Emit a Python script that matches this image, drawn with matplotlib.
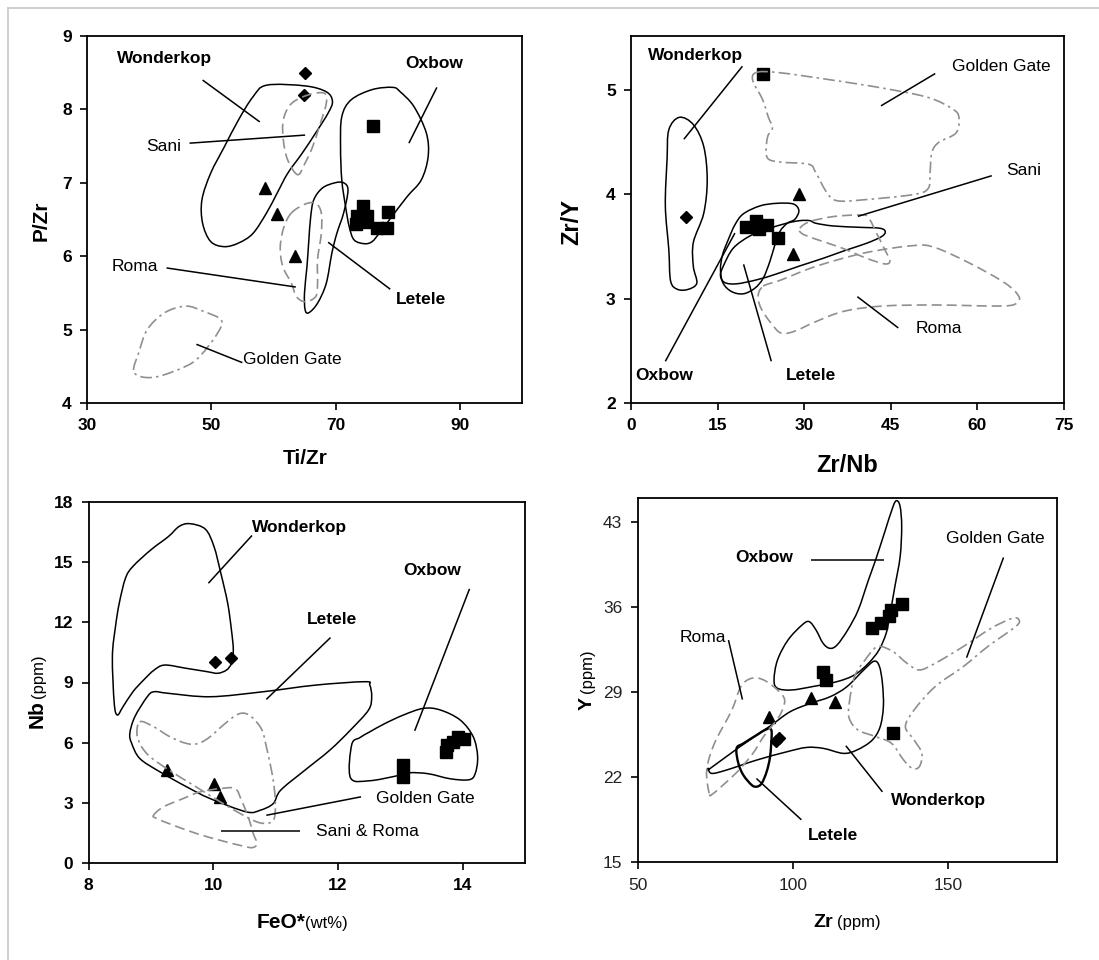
import numpy as np
import matplotlib
matplotlib.use("Agg")
import matplotlib.pyplot as plt
from matplotlib.path import Path
from matplotlib.patches import PathPatch
from matplotlib.lines import Line2D

plt.rcParams['font.family'] = ['Liberation Sans', 'DejaVu Sans']

# ---------------------------------------------------------------- panel 1: P/Zr vs Ti/Zr
p1_wonderkop_x = [58.9, 65.1, 68.5, 69.5, 68.8, 66.8, 64.6, 62.3, 60.6, 58.9, 56.7, 54.4, 52.1, 49.9, 48.6, 48.5, 49.9, 52.1, 54.4, 56.7]
p1_wonderkop_y = [8.33, 8.32, 8.24, 8.11, 7.95, 7.68, 7.40, 7.13, 6.86, 6.59, 6.31, 6.18, 6.13, 6.20, 6.45, 6.77, 7.13, 7.49, 7.86, 8.17]
p1_sani_x = [63.9, 62.3, 61.6, 61.6, 62.9, 65.7, 68.2, 68.5, 67.4, 66.3, 65.1]
p1_sani_y = [7.11, 7.31, 7.58, 7.86, 8.08, 8.20, 8.22, 8.08, 7.77, 7.49, 7.27]
p1_oxbow_x = [72.5, 75.9, 79.2, 80.4, 82.6, 84.6, 84.9, 83.8, 81.5, 78.7, 77.0, 75.9, 74.7, 73.0, 72.2, 71.6, 71.0, 70.8, 71.0]
p1_oxbow_y = [8.13, 8.27, 8.30, 8.24, 8.04, 7.68, 7.36, 7.04, 6.81, 6.50, 6.31, 6.20, 6.17, 6.22, 6.40, 6.68, 7.04, 7.49, 7.90]
p1_letele_x = [65.1, 65.7, 67.1, 68.5, 69.4, 70.2, 71.3, 72.0, 71.3, 69.9, 67.9, 66.5, 66.0, 65.7, 65.4, 65.0]
p1_letele_y = [5.27, 5.23, 5.36, 5.63, 6.04, 6.31, 6.59, 6.90, 7.00, 7.00, 6.93, 6.77, 6.54, 6.22, 5.86, 5.50]
p1_roma_x = [62.9, 65.1, 66.8, 67.7, 67.7, 67.1, 67.1, 66.8, 65.1, 63.7, 62.9, 61.5, 61.1, 61.7]
p1_roma_y = [6.59, 6.71, 6.72, 6.59, 6.31, 5.95, 5.63, 5.45, 5.38, 5.45, 5.63, 5.86, 6.13, 6.40]
p1_golden_x = [37.5, 38.3, 39.7, 42.5, 45.9, 48.7, 51.6, 51.0, 48.2, 45.9, 41.4, 38.6]
p1_golden_y = [4.45, 4.68, 5.00, 5.23, 5.32, 5.25, 5.13, 4.95, 4.64, 4.50, 4.36, 4.36]

p1_diamond_x = [65.0, 64.9]
p1_diamond_y = [8.50, 8.20]
p1_triangle_x = [58.6, 60.5, 63.4]
p1_triangle_y = [6.93, 6.57, 6.00]
p1_square_x = [76.0, 74.4, 73.5, 75.0, 73.25, 74.9, 76.6, 78.2, 78.5]
p1_square_y = [7.77, 6.69, 6.55, 6.55, 6.44, 6.47, 6.38, 6.38, 6.60]

p1_xticks = [30, 50, 70, 90]
p1_yticks = [4, 5, 6, 7, 8, 9]

# ---------------------------------------------------------------- panel 2: Zr/Y vs Zr/Nb
p2_wonderkop_x = [8.37, 10.8, 12.6, 13.2, 12.6, 10.8, 10.8, 11.4, 9.9, 8.07, 6.86, 6.55, 5.95, 6.25, 6.55]
p2_wonderkop_y = [4.74, 4.67, 4.46, 4.14, 3.82, 3.54, 3.31, 3.15, 3.09, 3.09, 3.17, 3.47, 3.89, 4.34, 4.62]
p2_golden_x = [21.7, 25.4, 34.5, 43.6, 51.5, 55.7, 56.8, 56.3, 53.3, 52.1, 51.8, 51.5, 49.0, 40.5, 35.7, 33.9, 32.0, 30.8, 26.0, 23.8, 23.4, 23.7, 24.5, 23.8, 22.8, 21.1]
p2_golden_y = [5.17, 5.17, 5.10, 5.02, 4.93, 4.82, 4.74, 4.59, 4.50, 4.40, 4.21, 4.06, 4.00, 3.95, 3.94, 4.02, 4.21, 4.29, 4.31, 4.34, 4.43, 4.56, 4.64, 4.74, 4.91, 5.09]
p2_sani_x = [29.25, 30.98, 35.03, 39.65, 41.09, 42.54, 43.98, 44.85, 43.98, 40.81, 36.18, 31.56, 29.54]
p2_sani_y = [3.676, 3.74, 3.788, 3.804, 3.781, 3.628, 3.468, 3.366, 3.334, 3.388, 3.494, 3.58, 3.628]
p2_roma_x = [22.9, 26.0, 32.0, 40.5, 49.0, 52.7, 58.7, 64.8, 67.2, 66.6, 63.6, 52.7, 43.6, 36.9, 32.0, 28.4, 26.0, 24.2, 22.6, 22.0]
p2_roma_y = [3.12, 3.18, 3.31, 3.44, 3.51, 3.49, 3.34, 3.15, 3.02, 2.95, 2.93, 2.94, 2.93, 2.88, 2.78, 2.69, 2.67, 2.77, 2.90, 3.02]
p2_oxbow_x = [19.43, 22.32, 25.21, 28.10, 29.08, 28.38, 27.06, 25.78, 24.92, 24.05, 22.90, 21.45, 19.43, 17.41, 15.96, 15.50, 15.85, 16.83, 17.99]
p2_oxbow_y = [3.813, 3.890, 3.915, 3.909, 3.845, 3.762, 3.724, 3.644, 3.516, 3.357, 3.197, 3.101, 3.047, 3.069, 3.149, 3.277, 3.420, 3.564, 3.708]
p2_letele_x = [15.96, 17.70, 20.59, 23.47, 26.94, 29.25, 30.98, 32.02, 35.03, 39.65, 43.12, 44.04, 43.40, 40.81, 37.34, 33.29, 29.25, 25.21, 21.74, 18.27, 16.25, 15.50]
p2_letele_y = [3.309, 3.484, 3.602, 3.666, 3.724, 3.749, 3.749, 3.724, 3.698, 3.685, 3.676, 3.644, 3.596, 3.532, 3.468, 3.388, 3.315, 3.238, 3.181, 3.143, 3.155, 3.219]

p2_diamond_x = [9.47]
p2_diamond_y = [3.78]
p2_triangle_x = [29.1, 28.1]
p2_triangle_y = [4.005, 3.43]
p2_square_x = [22.8, 20.0, 21.7, 23.5, 22.2, 25.5]
p2_square_y = [5.16, 3.685, 3.749, 3.708, 3.666, 3.58]

p2_xticks = [0, 15, 30, 45, 60, 75]
p2_yticks = [2, 3, 4, 5]

# ---------------------------------------------------------------- panel 3: Nb vs FeO*
p3_wonderkop_x = [8.46, 8.41, 8.38, 8.43, 8.49, 8.59, 8.71, 9.00, 9.28, 9.45, 9.62, 9.87, 10.01, 10.12, 10.23, 10.29, 10.32, 10.29, 10.21, 10.07, 9.90, 9.56, 9.22, 9.05, 8.88, 8.71, 8.55]
p3_wonderkop_y = [7.38, 7.96, 10.29, 11.79, 12.95, 14.20, 14.79, 15.62, 16.28, 16.78, 16.92, 16.65, 15.78, 14.45, 12.95, 11.62, 10.62, 9.96, 9.62, 9.46, 9.54, 9.71, 9.87, 9.62, 9.12, 8.54, 7.79]
p3_letele_x = [8.66, 8.74, 8.94, 9.05, 9.28, 9.95, 10.80, 11.64, 12.43, 12.51, 12.54, 12.49, 12.20, 11.87, 11.47, 11.08, 10.96, 10.75, 10.53, 9.95, 9.57, 9.14, 8.82, 8.69]
p3_letele_y = [6.46, 7.29, 8.29, 8.54, 8.46, 8.29, 8.54, 8.87, 9.04, 8.87, 8.29, 7.63, 6.63, 5.63, 4.63, 3.63, 2.96, 2.63, 2.55, 3.21, 3.80, 4.55, 5.21, 5.96]
p3_oxbow_x = [12.20, 12.22, 12.35, 12.51, 12.75, 13.05, 13.37, 13.64, 13.96, 14.17, 14.24, 14.20, 14.10, 13.80, 13.45, 13.15, 12.95, 12.50]
p3_oxbow_y = [4.25, 5.90, 6.25, 6.54, 6.95, 7.38, 7.71, 7.63, 7.13, 6.29, 5.29, 4.45, 4.15, 4.20, 4.45, 4.50, 4.35, 4.10]
p3_golden_x = [8.82, 9.04, 9.30, 9.57, 9.76, 9.95, 10.16, 10.37, 10.51, 10.64, 10.78, 10.85, 10.91, 10.96, 10.99, 10.99, 10.94, 10.75, 10.48, 10.11, 9.68, 9.25, 8.93, 8.78]
p3_golden_y = [7.04, 6.80, 6.30, 5.96, 5.96, 6.30, 6.88, 7.38, 7.46, 7.21, 6.63, 5.80, 4.96, 4.13, 3.30, 2.47, 2.05, 2.00, 2.38, 3.05, 3.88, 4.71, 5.46, 6.30]
p3_saniroma_x = [9.04, 9.20, 9.52, 9.79, 10.11, 10.35, 10.45, 10.56, 10.64, 10.70, 10.63, 10.48, 10.11, 9.73, 9.36, 9.09]
p3_saniroma_y = [2.38, 2.80, 3.22, 3.55, 3.71, 3.71, 3.13, 2.30, 1.47, 0.97, 0.77, 0.84, 1.13, 1.47, 1.88, 2.22]

p3_diamond_x = [10.03, 10.28]
p3_diamond_y = [10.01, 10.24]
p3_triangle_x = [9.25, 10.01, 10.10]
p3_triangle_y = [4.63, 3.93, 3.30]
p3_square_x = [13.04, 13.04, 13.73, 13.75, 13.85, 13.93, 14.02]
p3_square_y = [4.88, 4.30, 5.54, 5.90, 6.05, 6.29, 6.16]

p3_xticks = [8, 10, 12, 14]
p3_yticks = [0, 3, 6, 9, 12, 15, 18]

# ---------------------------------------------------------------- panel 4: Y vs Zr
p4_oxbow_x = [93.98, 95.1, 98.5, 103.0, 105.3, 107.5, 109.8, 112.0, 114.3, 117.7, 121.1, 124.4, 126.7, 129.5, 132.3, 133.5, 134.6, 135.1, 134.6, 132.9, 131.2, 130.1, 127.8, 124.4, 119.9, 114.3, 106.4, 99.6, 95.1]
p4_oxbow_y = [30.02, 31.66, 33.31, 34.54, 34.82, 34.13, 33.03, 32.62, 32.90, 34.13, 35.78, 38.25, 39.90, 42.09, 44.29, 44.78, 44.29, 42.64, 40.17, 37.70, 35.23, 33.86, 32.49, 31.39, 30.43, 29.88, 29.47, 29.19, 29.33]
p4_wonderkop_x = [73.4, 83.0, 92.7, 99.1, 105.6, 112.0, 117.4, 122.8, 126.2, 127.9, 128.9, 129.2, 128.1, 125.4, 120.6, 116.3, 109.9, 104.5, 98.1, 88.4, 78.7, 73.9, 72.8]
p4_wonderkop_y = [22.73, 24.52, 26.22, 27.39, 28.08, 28.63, 29.45, 30.82, 31.56, 31.15, 29.73, 27.81, 26.11, 25.01, 24.24, 23.97, 24.38, 24.46, 24.10, 23.42, 22.60, 22.32, 22.73]
p4_letele_x = [81.9, 82.5, 84.1, 86.8, 88.4, 90.0, 91.6, 92.7, 93.2, 93.0, 91.4, 88.4, 84.1]
p4_letele_y = [24.38, 23.14, 22.18, 21.36, 21.23, 21.50, 22.46, 23.69, 25.34, 25.94, 25.94, 25.48, 24.79]
p4_roma_x = [73.1, 72.3, 74.8, 80.4, 83.3, 86.7, 90.6, 95.1, 97.4, 96.2, 94.0, 90.6, 87.2, 82.7, 78.2, 74.2]
p4_roma_y = [20.68, 22.60, 24.80, 27.54, 29.47, 30.15, 30.02, 29.19, 28.37, 27.27, 26.45, 25.35, 23.98, 22.60, 21.51, 20.63]
p4_golden_x = [118.2, 119.9, 123.3, 127.3, 132.3, 136.8, 140.8, 145.9, 154.9, 163.9, 170.7, 172.9, 171.8, 162.8, 154.9, 145.9, 139.1, 136.3, 139.1, 141.6, 140.8, 138.5, 135.7, 131.8, 126.7, 121.0, 118.2]
p4_golden_y = [28.09, 30.29, 31.66, 32.76, 32.35, 31.39, 30.84, 31.39, 32.76, 34.27, 35.09, 34.96, 34.41, 32.76, 31.11, 29.47, 27.54, 26.17, 25.07, 23.98, 22.88, 22.74, 23.43, 24.80, 25.35, 25.90, 26.86]

p4_diamond_x = [94.6, 95.7]
p4_diamond_y = [25.01, 25.25]
p4_triangle_x = [92.4, 105.8, 113.6]
p4_triangle_y = [26.93, 28.49, 28.22]
p4_square_x = [109.7, 110.7, 132.2, 125.6, 128.4, 131.0, 131.6, 135.1]
p4_square_y = [30.63, 30.05, 25.67, 34.33, 34.74, 35.29, 35.76, 36.25]

p4_xticks = [50, 100, 150]
p4_yticks = [15, 22, 29, 36, 43]

# ---------------------------------------------------------------- drawing helpers
W, H = 1099, 960
fig = plt.figure(figsize=(W / 100, H / 100), dpi=100)
fig.patch.set_facecolor("white")

GRAY = "#8f8f8f"
STYLES = {
    "solid": dict(edgecolor="black", linewidth=1.1, linestyle="-"),
    "thick": dict(edgecolor="black", linewidth=1.7, linestyle="-"),
    "dash": dict(edgecolor=GRAY, linewidth=1.2, linestyle=(0, (6, 3))),
    "dashdot": dict(edgecolor=GRAY, linewidth=1.2, linestyle=(0, (7, 2.5, 1.5, 2.5))),
}


def px_axes(left, top, right, bottom):
    return fig.add_axes([left / W, 1 - bottom / H, (right - left) / W, (bottom - top) / H])


def closed_curve(xs, ys):
    """Smooth closed outline through the given vertices (Catmull-Rom as cubic Beziers)."""
    pts = np.column_stack([xs, ys]).astype(float)
    n = len(pts)
    verts = [pts[0]]
    codes = [Path.MOVETO]
    for i in range(n):
        p0, p1, p2, p3 = pts[i - 1], pts[i], pts[(i + 1) % n], pts[(i + 2) % n]
        verts += [p1 + (p2 - p0) / 6.0, p2 - (p3 - p1) / 6.0, p2]
        codes += [Path.CURVE4] * 3
    return Path(verts, codes)


def outline(ax, xs, ys, style):
    ax.add_patch(PathPatch(closed_curve(xs, ys), facecolor="none", zorder=4,
                           capstyle="butt", joinstyle="round", **STYLES[style]))


def markers(ax, dx, dy, tx, ty, sx, sy):
    ax.plot(sx, sy, "s", color="black", markersize=8.5, linestyle="none", zorder=3)
    ax.plot(tx, ty, "^", color="black", markersize=9, linestyle="none", zorder=3)
    ax.plot(dx, dy, "D", color="black", markersize=6.5, linestyle="none", zorder=3)


def field_label(ax, x, y, text, bold):
    ax.text(x, y, text, ha="center", va="center", fontsize=12.5,
            fontweight="bold" if bold else "normal", color="black", zorder=5)


def leader(ax, x0, y0, x1, y1):
    ax.plot([x0, x1], [y0, y1], color="black", linewidth=1.1, zorder=4,
            solid_capstyle="butt")


def style_axes(ax, xlim, ylim, xticks, yticks, bold_ticks=True):
    ax.set_xlim(*xlim)
    ax.set_ylim(*ylim)
    ax.set_xticks(xticks)
    ax.set_yticks(yticks)
    for sp in ax.spines.values():
        sp.set_linewidth(1.3)
        sp.set_color("black")
    ax.tick_params(direction="out", length=5, width=1.2, labelsize=12.5, pad=6,
                   top=False, right=False,
                   labelcolor="black" if bold_ticks else "#222222")
    for lab in ax.get_xticklabels() + ax.get_yticklabels():
        lab.set_fontweight("bold" if bold_ticks else "normal")


def fig_text(xp, yp, s, **kw):
    return fig.text(xp / W, 1 - yp / H, s, **kw)


# ---------------------------------------------------------------- panel 1
ax1 = px_axes(87, 36, 522, 403)
style_axes(ax1, (30, 100), (4, 9), p1_xticks, p1_yticks)
outline(ax1, p1_wonderkop_x, p1_wonderkop_y, "solid")
outline(ax1, p1_oxbow_x, p1_oxbow_y, "solid")
outline(ax1, p1_letele_x, p1_letele_y, "solid")
outline(ax1, p1_sani_x, p1_sani_y, "dash")
outline(ax1, p1_roma_x, p1_roma_y, "dash")
outline(ax1, p1_golden_x, p1_golden_y, "dashdot")
markers(ax1, p1_diamond_x, p1_diamond_y, p1_triangle_x, p1_triangle_y, p1_square_x, p1_square_y)
field_label(ax1, 42.5, 8.70, "Wonderkop", True)
leader(ax1, 48.6, 8.40, 57.8, 7.83)
field_label(ax1, 85.9, 8.63, "Oxbow", True)
leader(ax1, 86.3, 8.30, 81.8, 7.54)
field_label(ax1, 42.3, 7.49, "Sani", False)
leader(ax1, 46.5, 7.54, 65.1, 7.65)
field_label(ax1, 37.7, 5.86, "Roma", False)
leader(ax1, 42.8, 5.84, 63.6, 5.58)
field_label(ax1, 83.8, 5.41, "Letele", True)
leader(ax1, 78.8, 5.55, 68.8, 6.19)
field_label(ax1, 63.0, 4.59, "Golden Gate", False)
leader(ax1, 47.6, 4.80, 55.0, 4.55)
fig_text(41, 221, "P/Zr", rotation=90, ha="center", va="center", fontsize=15, fontweight="bold")
fig_text(305, 458, "Ti/Zr", ha="center", va="center", fontsize=15, fontweight="bold")

# ---------------------------------------------------------------- panel 2
ax2 = px_axes(631, 36, 1064, 403)
style_axes(ax2, (0, 75), (2, 5.52), p2_xticks, p2_yticks)
outline(ax2, p2_wonderkop_x, p2_wonderkop_y, "solid")
outline(ax2, p2_oxbow_x, p2_oxbow_y, "solid")
outline(ax2, p2_letele_x, p2_letele_y, "solid")
outline(ax2, p2_sani_x, p2_sani_y, "dash")
outline(ax2, p2_roma_x, p2_roma_y, "dash")
outline(ax2, p2_golden_x, p2_golden_y, "dashdot")
markers(ax2, p2_diamond_x, p2_diamond_y, p2_triangle_x, p2_triangle_y, p2_square_x, p2_square_y)
field_label(ax2, 11.1, 5.33, "Wonderkop", True)
leader(ax2, 19.3, 5.23, 9.16, 4.53)
field_label(ax2, 64.1, 5.23, "Golden Gate", False)
leader(ax2, 52.7, 5.16, 43.3, 4.85)
field_label(ax2, 68.0, 4.23, "Sani", False)
leader(ax2, 62.5, 4.18, 39.3, 3.79)
field_label(ax2, 53.4, 2.71, "Roma", False)
leader(ax2, 46.3, 2.72, 39.2, 3.02)
field_label(ax2, 5.8, 2.26, "Oxbow", True)
leader(ax2, 5.95, 2.40, 18.0, 3.63)
field_label(ax2, 31.1, 2.26, "Letele", True)
leader(ax2, 24.3, 2.40, 19.5, 3.33)
fig_text(572, 222, "Zr/Y", rotation=90, ha="center", va="center", fontsize=17, fontweight="bold")
fig_text(847, 465, "Zr/Nb", ha="center", va="center", fontsize=17, fontweight="bold")

# ---------------------------------------------------------------- panel 3
ax3 = px_axes(88.7, 502, 525, 863)
style_axes(ax3, (8, 15), (0, 18), p3_xticks, p3_yticks)
outline(ax3, p3_wonderkop_x, p3_wonderkop_y, "solid")
outline(ax3, p3_letele_x, p3_letele_y, "solid")
outline(ax3, p3_oxbow_x, p3_oxbow_y, "solid")
outline(ax3, p3_golden_x, p3_golden_y, "dashdot")
outline(ax3, p3_saniroma_x, p3_saniroma_y, "dash")
markers(ax3, p3_diamond_x, p3_diamond_y, p3_triangle_x, p3_triangle_y, p3_square_x, p3_square_y)
field_label(ax3, 11.38, 16.75, "Wonderkop", True)
leader(ax3, 10.62, 16.33, 9.92, 13.95)
field_label(ax3, 11.91, 12.12, "Letele", True)
leader(ax3, 11.88, 11.24, 10.85, 8.16)
field_label(ax3, 13.51, 14.59, "Oxbow", True)
leader(ax3, 14.11, 13.67, 13.23, 6.59)
field_label(ax3, 13.40, 3.21, "Golden Gate", False)
leader(ax3, 12.37, 3.30, 10.85, 2.38)
field_label(ax3, 12.47, 1.58, "Sani & Roma", False)
leader(ax3, 11.39, 1.58, 10.13, 1.58)
fig_text(43, 700, "Nb", rotation=90, rotation_mode="anchor", ha="right", va="baseline",
         fontsize=15, fontweight="bold")
fig_text(43, 698, "(ppm)", rotation=90, rotation_mode="anchor", ha="left", va="baseline",
         fontsize=12)
fig_text(305, 928, "FeO*", ha="right", va="baseline", fontsize=15, fontweight="bold")
fig_text(305, 928, "(wt%)", ha="left", va="baseline", fontsize=12)

# ---------------------------------------------------------------- panel 4
ax4 = px_axes(637.5, 498, 1056.6, 862.3)
style_axes(ax4, (50, 185), (15, 45), p4_xticks, p4_yticks, bold_ticks=False)
outline(ax4, p4_oxbow_x, p4_oxbow_y, "solid")
outline(ax4, p4_wonderkop_x, p4_wonderkop_y, "solid")
outline(ax4, p4_letele_x, p4_letele_y, "thick")
outline(ax4, p4_roma_x, p4_roma_y, "dash")
outline(ax4, p4_golden_x, p4_golden_y, "dashdot")
markers(ax4, p4_diamond_x, p4_diamond_y, p4_triangle_x, p4_triangle_y, p4_square_x, p4_square_y)
field_label(ax4, 90.9, 40.1, "Oxbow", True)
leader(ax4, 105.8, 39.9, 129.5, 39.9)
field_label(ax4, 165.4, 41.7, "Golden Gate", False)
leader(ax4, 167.9, 40.1, 156.0, 31.85)
field_label(ax4, 70.9, 33.5, "Roma", False)
leader(ax4, 79.3, 33.3, 83.8, 28.4)
field_label(ax4, 147.0, 20.1, "Wonderkop", True)
leader(ax4, 128.9, 20.8, 117.1, 24.6)
field_label(ax4, 112.9, 17.2, "Letele", True)
leader(ax4, 102.8, 18.5, 88.3, 21.9)
fig_text(592, 697, "Y", rotation=90, rotation_mode="anchor", ha="right", va="baseline",
         fontsize=14, fontweight="bold")
fig_text(592, 693, "(ppm)", rotation=90, rotation_mode="anchor", ha="left", va="baseline",
         fontsize=12)
fig_text(833, 927, "Zr", ha="right", va="baseline", fontsize=14, fontweight="bold")
fig_text(837, 927, "(ppm)", ha="left", va="baseline", fontsize=12)

# thin page frame along the top and left edges
fig.add_artist(Line2D([8 / W, 1.0], [1 - 8 / H, 1 - 8 / H], color="#c8c8c8", linewidth=1.2,
                      transform=fig.transFigure))
fig.add_artist(Line2D([8 / W, 8 / W], [0.0, 1 - 8 / H], color="#c8c8c8", linewidth=1.2,
                      transform=fig.transFigure))

fig.savefig("out.png", dpi=100, facecolor="white")
